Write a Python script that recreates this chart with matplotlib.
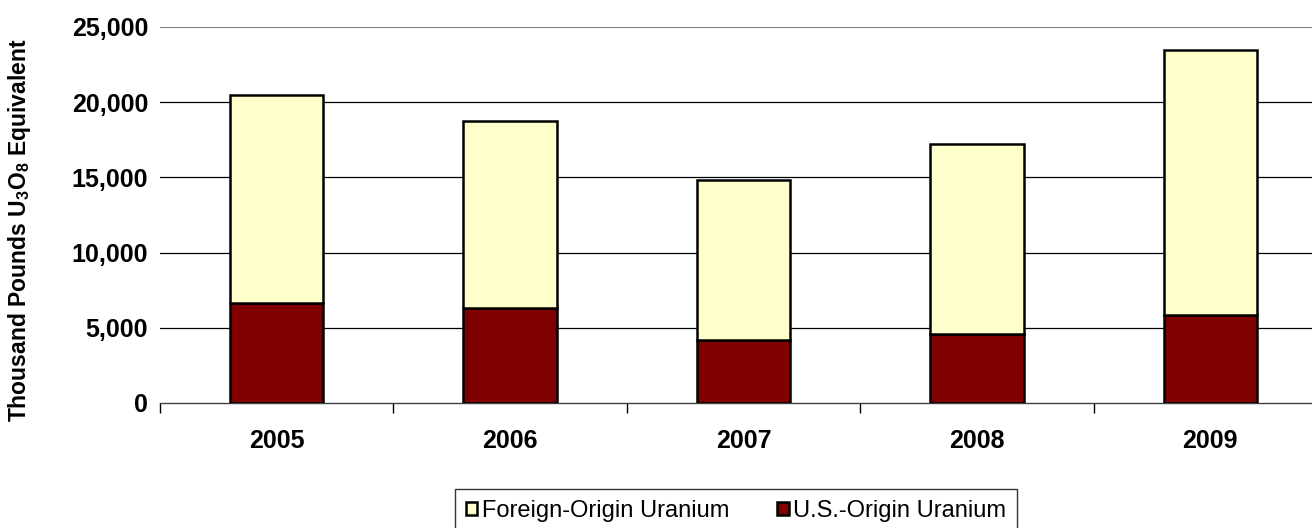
import matplotlib
matplotlib.use("Agg")
import matplotlib.pyplot as plt
import numpy as np
from matplotlib.ticker import FuncFormatter

# data (thousand pounds U3O8 equivalent)
years = ["2005", "2006", "2007", "2008", "2009"]
us_origin = [6650, 6340, 4170, 4610, 5870]
total = [20500, 18750, 14800, 17250, 23500]
foreign_origin = [t - u for t, u in zip(total, us_origin)]

plt.rcParams['font.family'] = ['Liberation Sans', 'DejaVu Sans']
plt.rcParams['mathtext.fontset'] = 'custom'
plt.rcParams['mathtext.rm'] = 'Liberation Sans:bold'
plt.rcParams['mathtext.bf'] = 'Liberation Sans:bold'

fig = plt.figure(figsize=(13.12, 5.28), dpi=100)
ax = fig.add_axes([160 / 1312, 125 / 528, 1167 / 1312, 376 / 528])

x = np.arange(len(years))
w = 0.4
ax.bar(x, us_origin, w, color='#800000', edgecolor='black', lw=1.8,
       label='U.S.-Origin Uranium', zorder=3)
ax.bar(x, foreign_origin, w, bottom=us_origin, color='#FFFFCC', edgecolor='black',
       lw=1.8, label='Foreign-Origin Uranium', zorder=3)

# gridlines
for v in [5000, 10000, 15000, 20000]:
    ax.axhline(v, color='black', lw=0.9, zorder=1)
ax.axhline(25000, color='#808080', lw=1.5, zorder=1)

ax.set_xlim(-0.5, len(years) - 0.5)
ax.set_ylim(0, 25000)
ax.set_yticks(range(0, 25001, 5000))
ax.yaxis.set_major_formatter(FuncFormatter(lambda v, p: f"{int(v):,}"))
ax.set_xticks(x)
ax.set_xticklabels(years)
ax.set_xticks(np.arange(-0.5, len(years), 1), minor=True)
ax.tick_params(axis='x', which='major', length=0, pad=19)
ax.tick_params(axis='x', which='minor', length=7, width=1, direction='out')
ax.tick_params(axis='y', length=0, pad=8.5)
for lab in ax.get_xticklabels() + ax.get_yticklabels():
    lab.set_fontsize(18)
    lab.set_fontweight('bold')

for s in ['left', 'right', 'top']:
    ax.spines[s].set_visible(False)
ax.spines['bottom'].set_color('#404040')
ax.spines['bottom'].set_linewidth(1)

ax.set_ylabel(r"Thousand Pounds U$_\mathbf{3}$O$_\mathbf{8}$ Equivalent",
              fontsize=16.5, fontweight='bold')
ax.yaxis.set_label_coords(-127 / 1167, 0.46)

h, l = ax.get_legend_handles_labels()
leg = fig.legend(h[::-1], l[::-1], ncol=2, loc='center',
                 bbox_to_anchor=(736 / 1312, 1 - 511 / 528), fontsize=17,
                 frameon=True, fancybox=False, handlelength=0.5, handleheight=0.5,
                 handletextpad=0.2, columnspacing=2.0, borderpad=0.45)
leg.get_frame().set_edgecolor('black')
leg.get_frame().set_linewidth(1)

fig.savefig("out.png", dpi=100)
